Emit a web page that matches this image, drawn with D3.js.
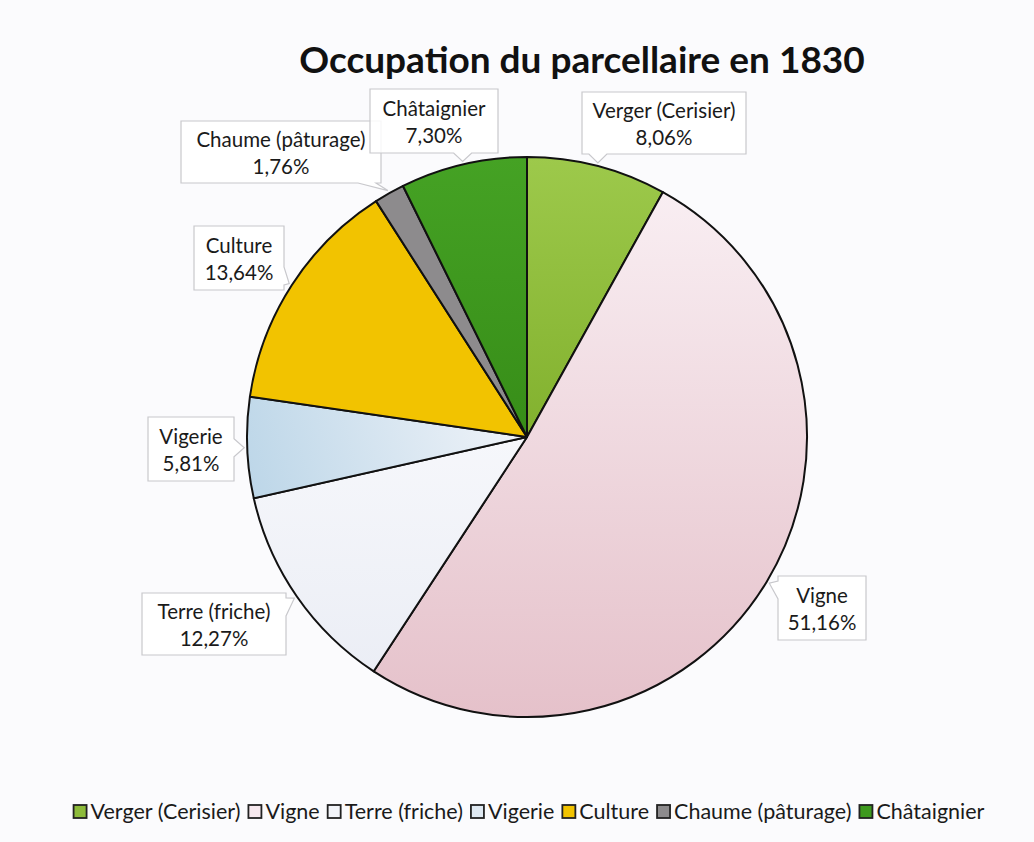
<!DOCTYPE html>
<html lang="fr">
<head>
<meta charset="UTF-8">
<title>Occupation du parcellaire en 1830</title>
<script src="https://d3js.org/d3.v7.min.js"></script>
<style>
  body { margin: 0; background: #fbfbfd; }
  svg { display: block; }
  .title { font-family: Lato, sans-serif; font-weight: bold; font-size: 37px; fill: #111; text-anchor: middle; }
  .lbl { font-family: Lato, sans-serif; font-size: 20.5px; fill: #1a1a1a; text-anchor: middle; }
  .leg { font-family: Lato, sans-serif; font-size: 21.5px; fill: #1a1a1a; }
  .callout { fill: #fff; fill-opacity: 0.85; stroke: #c8c8cc; stroke-width: 1.2; }
</style>
</head>
<body>
<div id="chart"></div>
<script>
// données
var categories = ["Verger (Cerisier)", "Vigne", "Terre (friche)", "Vigerie", "Culture", "Chaume (pâturage)", "Châtaignier"];
var values = [8.06, 51.16, 12.27, 5.81, 13.64, 1.76, 7.30];
var valueLabels = ["8,06%", "51,16%", "12,27%", "5,81%", "13,64%", "1,76%", "7,30%"];

// mise en page des étiquettes (centre des boîtes)
var labelPos = [[664, 123], [822, 608], [214, 624], [191, 449], [239, 258], [281, 152], [434, 121]];
var labelSize = [[164, 62], [88, 64], [144, 62], [86, 64], [90, 64], [200, 62], [128, 64]];

var width = 1034, height = 842;
var cx = 527, cy = 437, r = 280;

var svg = d3.select("#chart").append("svg")
  .attr("width", width)
  .attr("height", height);

// dégradés (coordonnées relatives au centre du camembert)
var defs = svg.append("defs");
function grad(id, x1, y1, x2, y2, c1, c2) {
  var g = defs.append("linearGradient").attr("id", id)
    .attr("gradientUnits", "userSpaceOnUse")
    .attr("x1", x1).attr("y1", y1).attr("x2", x2).attr("y2", y2);
  g.append("stop").attr("offset", "0").attr("stop-color", c1);
  g.append("stop").attr("offset", "1").attr("stop-color", c2);
}
grad("gVerger", 0, -r, 0, 0, "#9dc94b", "#82b12e");
grad("gVigne", 0, -r, 0, r, "#faf1f5", "#e5c1ca");
grad("gTerre", 0, 0, 0, r, "#f6f7fb", "#e9ecf4");
grad("gVigerie", -r, 60, 0, -20, "#bcd6e8", "#f1f4f9");
grad("gChat", 0, -r, 0, 0, "#45a224", "#378d18");

var color = d3.scaleOrdinal()
  .domain(categories)
  .range(["url(#gVerger)", "url(#gVigne)", "url(#gTerre)", "url(#gVigerie)", "#f2c300", "#8d8b8d", "url(#gChat)"]);
var swatch = d3.scaleOrdinal()
  .domain(categories)
  .range(["#8dbb3a", "#f6e8ee", "#f2f4f9", "#dfe9f2", "#f2c300", "#8d8b8d", "#3e9a1e"]);

var data = categories.map(function (c, i) { return { name: c, value: values[i], label: valueLabels[i], i: i }; });

var pie = d3.pie().sort(null).value(function (d) { return d.value; });
var arc = d3.arc().innerRadius(0).outerRadius(r);
var arcs = pie(data);

// titre
svg.append("text").attr("class", "title")
  .attr("x", 582).attr("y", 73)
  .text("Occupation du parcellaire en 1830");

// secteurs
var g = svg.append("g").attr("transform", "translate(" + cx + "," + cy + ")");
g.selectAll("path")
  .data(arcs)
  .enter().append("path")
  .attr("d", arc)
  .attr("fill", function (d) { return color(d.data.name); })
  .attr("stroke", "#111")
  .attr("stroke-width", 2)
  .attr("stroke-linejoin", "round");

// boîtes d'étiquettes avec pointe
function calloutPath(bx, by, bw, bh, tx, ty) {
  var x0 = bx, y0 = by, x1 = bx + bw, y1 = by + bh, n = 9;
  var p;
  if (ty > y1) {
    var m = Math.max(x0 + 14, Math.min(x1 - 14, tx));
    p = [[x0, y0], [x1, y0], [x1, y1], [m + n, y1], [tx, ty], [m - n, y1], [x0, y1]];
  } else if (ty < y0) {
    var m2 = Math.max(x0 + 14, Math.min(x1 - 14, tx));
    p = [[x0, y0], [m2 - n, y0], [tx, ty], [m2 + n, y0], [x1, y0], [x1, y1], [x0, y1]];
  } else if (tx > x1) {
    var m3 = Math.max(y0 + 14, Math.min(y1 - 14, ty));
    p = [[x0, y0], [x1, y0], [x1, m3 - n], [tx, ty], [x1, m3 + n], [x1, y1], [x0, y1]];
  } else {
    var m4 = Math.max(y0 + 14, Math.min(y1 - 14, ty));
    p = [[x0, y0], [x1, y0], [x1, y1], [x0, y1], [x0, m4 + n], [tx, ty], [x0, m4 - n]];
  }
  return "M" + p.map(function (q) { return q[0] + "," + q[1]; }).join("L") + "Z";
}

var labels = svg.append("g");
arcs.forEach(function (d) {
  var i = d.data.i;
  var a = (d.startAngle + d.endAngle) / 2;
  var tx = cx + (r + 3) * Math.sin(a), ty = cy - (r + 3) * Math.cos(a);
  var w = labelSize[i][0], h = labelSize[i][1];
  var bx = labelPos[i][0] - w / 2, by = labelPos[i][1] - h / 2;
  labels.append("path").attr("class", "callout")
    .attr("d", calloutPath(bx, by, w, h, tx, ty));
  labels.append("text").attr("class", "lbl")
    .attr("x", labelPos[i][0]).attr("y", labelPos[i][1] - 5)
    .text(d.data.name);
  labels.append("text").attr("class", "lbl")
    .attr("x", labelPos[i][0]).attr("y", labelPos[i][1] + 22)
    .text(d.data.label);
});

// légende
var leg = svg.append("g");
var lx = 0;
categories.forEach(function (c) {
  var it = leg.append("g");
  it.append("rect").attr("x", 0).attr("y", -14).attr("width", 13).attr("height", 13)
    .attr("fill", swatch(c)).attr("stroke", "#222").attr("stroke-width", 1.8);
  var t = it.append("text").attr("class", "leg").attr("x", 17).attr("y", 0).text(c);
  it.attr("transform", "translate(" + lx + ",0)");
  lx += 17 + t.node().getComputedTextLength() + 8;
});
leg.attr("transform", "translate(" + (529 - (lx - 8) / 2) + ",819)");
</script>
</body>
</html>
